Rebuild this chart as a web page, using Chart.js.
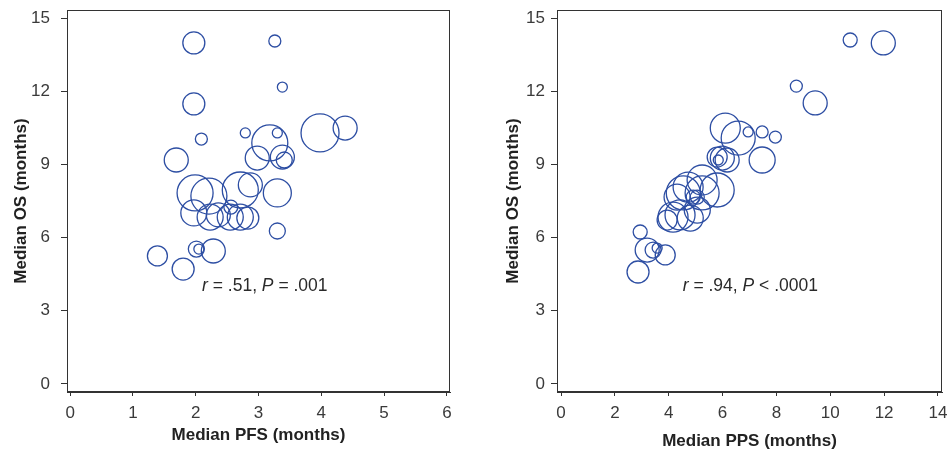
<!DOCTYPE html>
<html>
<head>
<meta charset="utf-8">
<script src="https://cdn.jsdelivr.net/npm/chart.js@4.4.1/dist/chart.umd.min.js"></script>
<style>
  html, body { margin: 0; padding: 0; background: #fff; }
  body { width: 949px; height: 456px; position: relative; overflow: hidden; }
  canvas { position: absolute; top: 0; }
  #leftChart { left: 0; }
  #rightChart { left: 475px; }
</style>
</head>
<body>
<canvas id="leftChart" width="475" height="456"></canvas>
<canvas id="rightChart" width="474" height="456"></canvas>
<script>
// Left panel: median PFS vs median OS, bubble = trial size
const pfsMonths = [1.97, 3.26, 3.38, 1.97, 2.09, 2.79, 3.30, 3.18, 3.98, 4.38, 1.69, 2.98, 3.38, 3.41,
  1.99, 2.21, 2.71, 2.87, 3.30, 1.97, 2.23, 2.36, 2.55, 2.71, 2.83, 2.56, 3.30, 2.01, 2.05, 2.28, 1.39, 1.80];
const osLeft = [13.98, 14.06, 12.17, 11.48, 10.04, 10.29, 10.29, 9.88, 10.29, 10.49, 9.18, 9.26, 9.30, 9.18,
  7.83, 7.70, 7.95, 8.16, 7.83, 7.01, 6.84, 6.93, 6.84, 6.84, 6.80, 7.25, 6.27, 5.53, 5.53, 5.45, 5.25, 4.71];
const patientsLeft = [121, 36, 25, 121, 36, 25, 25, 324, 361, 144, 144, 144, 144, 64,
  324, 324, 324, 144, 196, 169, 169, 144, 169, 169, 121, 49, 64, 64, 25, 144, 100, 121];

// Right panel: median PPS vs median OS
const ppsMonths = [10.74, 11.97, 8.74, 9.44, 6.10, 6.58, 6.95, 7.47, 7.96, 7.47, 5.80, 5.99, 6.17, 5.84,
  5.24, 5.80, 4.72, 4.31, 5.06, 4.54, 5.24, 4.91, 4.16, 4.42, 4.80, 3.94, 5.06, 2.94, 3.20, 3.42, 3.57, 3.87, 2.86];
const osRight = [14.10, 13.98, 12.21, 11.52, 10.49, 10.08, 10.33, 10.33, 10.12, 9.18, 9.30, 9.26, 9.18, 9.18,
  8.36, 7.95, 8.07, 7.66, 7.66, 7.83, 7.83, 7.66, 6.84, 6.93, 6.80, 6.72, 7.13, 6.23, 5.49, 5.49, 5.57, 5.29, 4.59];
const patientsRight = [49, 144, 36, 144, 225, 289, 25, 36, 36, 169, 100, 144, 144, 25,
  225, 289, 225, 169, 49, 289, 289, 49, 225, 225, 169, 100, 169, 49, 144, 64, 25, 100, 121];

const osTicks = [0, 3, 6, 9, 12, 15];
const pfsTicks = [0, 1, 2, 3, 4, 5, 6];
const ppsTicks = [0, 2, 4, 6, 8, 10, 12, 14];

const LINE = "#333";
const BUBBLE = "#2d4ea3";
const FONT = "'Liberation Sans', Arial, sans-serif";

// üîπ build {x, y, r} points
function toPoints(xs, ys, ns) {
  return xs.map((x, i) => ({ x: x, y: ys[i], r: Math.sqrt(ns[i]) }));
}

// üîπ box around the plot area + the r / P label
const framePlugin = {
  id: "frame",
  afterDraw(chart, args, opts) {
    const { ctx, chartArea: a, scales } = chart;
    ctx.save();
    ctx.strokeStyle = LINE;
    ctx.lineWidth = 1;
    ctx.strokeRect(a.left + 0.5, a.top + 0.5, a.right - a.left - 1, a.bottom - a.top - 1);

    // stats text, italic r and P
    const parts = opts.parts;
    const px = scales.x.getPixelForValue(opts.x);
    const py = scales.y.getPixelForValue(opts.y);
    const normal = "17.5px " + FONT;
    const italic = "italic 17.5px " + FONT;
    let total = 0;
    parts.forEach(p => { ctx.font = p.i ? italic : normal; total += ctx.measureText(p.t).width; });
    let cx = px - total / 2;
    ctx.fillStyle = "#2a2a2a";
    ctx.textBaseline = "middle";
    parts.forEach(p => {
      ctx.font = p.i ? italic : normal;
      ctx.fillText(p.t, cx, py);
      cx += ctx.measureText(p.t).width;
    });
    ctx.restore();
  },
};

function makeChart(id, opt) {
  const ctx = document.getElementById(id).getContext("2d");
  return new Chart(ctx, {
    type: "bubble",
    data: {
      datasets: [{
        data: opt.points,
        borderColor: BUBBLE,
        backgroundColor: "rgba(0,0,0,0)",
        borderWidth: 1.3,
        hoverRadius: 0,
      }],
    },
    options: {
      responsive: false,
      animation: false,
      events: [],
      layout: { autoPadding: false, padding: { top: 10, right: opt.padRight, bottom: 0, left: 0 } },
      plugins: {
        legend: { display: false },
        tooltip: { enabled: false },
        frame: { x: opt.textX, y: 4.0, parts: opt.parts },
      },
      scales: {
        x: {
          type: "linear",
          min: opt.xMin,
          max: opt.xMax,
          afterBuildTicks: s => { s.ticks = opt.xTicks.map(v => ({ value: v })); },
          afterFit: s => { s.height = 64; s.paddingLeft = 0; s.paddingRight = 0; },
          grid: { drawOnChartArea: false, drawTicks: true, tickLength: 4, color: LINE },
          border: { display: true, color: LINE },
          ticks: { color: "#3a3a3a", padding: 7, maxRotation: 0, font: { family: FONT, size: 17 } },
          title: {
            display: true,
            text: opt.xTitle,
            color: "#222",
            padding: { top: 0, bottom: opt.xTitlePad },
            font: { family: FONT, size: 17, weight: "bold" },
          },
        },
        y: {
          type: "linear",
          min: -0.33,
          max: 15.33,
          afterBuildTicks: s => { s.ticks = osTicks.map(v => ({ value: v })); },
          afterFit: s => { s.width = opt.yWidth; s.paddingTop = 0; s.paddingBottom = 0; },
          grid: { drawOnChartArea: false, drawTicks: true, tickLength: 6, color: LINE },
          border: { display: true, color: LINE },
          ticks: { color: "#3a3a3a", padding: opt.yTickPad, font: { family: FONT, size: 17 } },
          title: {
            display: true,
            text: "Median OS (months)",
            color: "#222",
            padding: { top: opt.yTitlePad, bottom: 0 },
            font: { family: FONT, size: 17, weight: "bold" },
          },
        },
      },
    },
    plugins: [framePlugin],
  });
}

makeChart("leftChart", {
  points: toPoints(pfsMonths, osLeft, patientsLeft),
  xMin: -0.05, xMax: 6.05, xTicks: pfsTicks,
  xTitle: "Median PFS (months)", xTitlePad: 10,
  yWidth: 67, yTickPad: 11, yTitlePad: 11, padRight: 25,
  textX: 3.1,
  parts: [{ t: "r", i: true }, { t: " = .51, " }, { t: "P", i: true }, { t: " = .001" }],
});

makeChart("rightChart", {
  points: toPoints(ppsMonths, osRight, patientsRight),
  xMin: -0.15, xMax: 14.15, xTicks: ppsTicks,
  xTitle: "Median PPS (months)", xTitlePad: 4,
  yWidth: 82, yTickPad: 6, yTitlePad: 28, padRight: 7,
  textX: 7.03,
  parts: [{ t: "r", i: true }, { t: " = .94, " }, { t: "P", i: true }, { t: " < .0001" }],
});
</script>
</body>
</html>
